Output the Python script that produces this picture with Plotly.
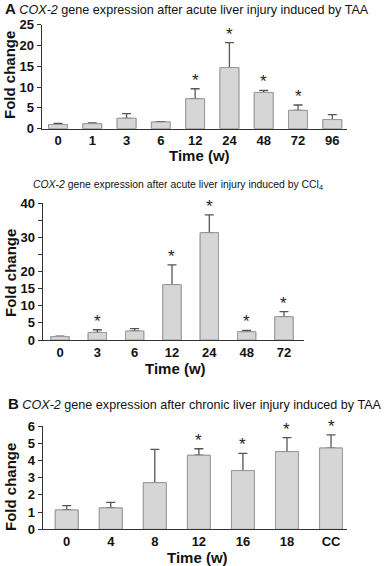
import plotly.graph_objects as go

W, H = 387, 566

# ---- data ----
a_cats = ["0", "1", "3", "6", "12", "24", "48", "72", "96"]
a_vals = [1.0, 1.2, 2.5, 1.6, 7.2, 14.7, 8.7, 4.4, 2.2]
a_err = [0.3, 0.2, 1.1, 0.1, 2.4, 6.0, 0.5, 1.3, 1.2]
a_star = [False, False, False, False, True, True, True, True, False]

c_cats = ["0", "3", "6", "12", "24", "48", "72"]
c_vals = [1.0, 2.2, 2.6, 16.2, 31.4, 2.4, 6.8]
c_err = [0.1, 0.8, 0.7, 5.8, 5.2, 0.4, 1.5]
c_star = [False, True, False, True, True, True, True]

b_cats = ["0", "4", "8", "12", "16", "18", "CC"]
b_vals = [1.12, 1.24, 2.71, 4.30, 3.41, 4.51, 4.72]
b_err = [0.25, 0.32, 1.93, 0.38, 1.00, 0.82, 0.76]
b_star = [False, False, False, True, True, True, True]

a_ticks = [0, 5, 10, 15, 20, 25]
c_ticks = [0, 5, 10, 15, 20, 25, 30, 35, 40]
c_ticktext = ["0", "5", "10", "15", "20", "", "30", "", "40"]
b_ticks = [0, 1, 2, 3, 4, 5, 6]

FONT = "Liberation Sans, Arial, sans-serif"
FILL = "#d6d6d6"
EDGE = "#9a9a9a"
ERR = "#555555"
AX = "#333333"


def px_x(p):
    return p / W


def px_y(p):
    return 1 - p / H


fig = go.Figure()

panels = [
    (a_cats, a_vals, a_err, a_star, "", 0.55, [-0.475, 8.42], (41.7, 346.7), (128.7, 24.7), [0, 25], a_ticks, None),
    (c_cats, c_vals, c_err, c_star, "2", 0.49, [-0.463, 6.536], (42.7, 304), (340, 203.3), [0, 40], c_ticks, c_ticktext),
    (b_cats, b_vals, b_err, b_star, "3", 0.52, [-0.545, 6.356], (42.7, 346.7), (529.3, 426), [0, 6], b_ticks, None),
]

for cats, vals, err, stars, idx, bw, xr, xd, yd, yr, tv, tt in panels:
    xa = "x" + idx
    ya = "y" + idx
    pos = list(range(len(cats)))
    fig.add_trace(go.Bar(
        x=pos, y=vals, xaxis=xa, yaxis=ya, width=bw,
        marker=dict(color=FILL, line=dict(color=EDGE, width=1)),
        error_y=dict(type="data", symmetric=False, array=err,
                     arrayminus=[0] * len(err), color=ERR, thickness=1.3, width=4.5),
        showlegend=False, hoverinfo="skip",
    ))
    fig.add_trace(go.Bar(
        x=pos, y=vals, xaxis=xa, yaxis=ya, width=bw,
        marker=dict(color=FILL, line=dict(color=EDGE, width=1)),
        showlegend=False, hoverinfo="skip",
    ))
    for p, v, e, s in zip(pos, vals, err, stars):
        if s:
            fig.add_annotation(x=p, y=v + e, xref=xa, yref=ya, text="*",
                               showarrow=False, yanchor="bottom", yshift=-3,
                               font=dict(family=FONT, size=17, color="#222"))
    xkey = "xaxis" + idx
    ykey = "yaxis" + idx
    fig.update_layout({
        xkey: dict(domain=[px_x(xd[0]), px_x(xd[1])], anchor=ya,
                   range=xr, showline=True, linecolor=AX, linewidth=1.3,
                   tickvals=pos, ticktext=cats, automargin=False,
                   ticks="", showgrid=False, zeroline=False,
                   tickfont=dict(family=FONT, size=13, color="#111", weight="bold")),
        ykey: dict(domain=[px_y(yd[0]), px_y(yd[1])], anchor=xa, range=yr,
                   showline=True, linecolor=AX, linewidth=1.3, ticks="outside",
                   ticklen=4, tickcolor=AX, tickwidth=1, showgrid=False, zeroline=False,
                   tickvals=tv, ticktext=tt if tt else [str(t) for t in tv],
                   automargin=False,
                   tickfont=dict(family=FONT, size=13, color="#111", weight="bold")),
    })

# titles
titles = [
    ("<b><span style='font-size:15px'>A</span></b> <i>COX-2</i> gene expression after acute liver injury induced by TAA", 3, 8.5, 12.6),
    ("<i>COX-2</i> gene expression after acute liver injury induced by CCl<sub>4</sub>", 31, 185, 10.4),
    ("<b><span style='font-size:15px'>B</span></b> <i>COX-2</i> gene expression after chronic liver injury induced by TAA", 6, 403, 12.6),
]
for txt, x0, yc, sz in titles:
    fig.add_annotation(x=px_x(x0), y=px_y(yc), xref="paper", yref="paper", text=txt,
                       showarrow=False, xanchor="left", yanchor="middle",
                       font=dict(family=FONT, size=sz, color="#111"))

# axis titles
for x0, yc in [(9, 75), (10, 273), (10, 487)]:
    fig.add_annotation(x=px_x(x0), y=px_y(yc), xref="paper", yref="paper",
                       text="<b>Fold change</b>", textangle=-90, showarrow=False,
                       xanchor="center", yanchor="middle",
                       font=dict(family=FONT, size=15, color="#111"))
for xc, yc in [(200, 156), (175, 368), (197, 557)]:
    fig.add_annotation(x=px_x(xc), y=px_y(yc), xref="paper", yref="paper",
                       text="<b>Time (w)</b>", showarrow=False,
                       xanchor="center", yanchor="middle",
                       font=dict(family=FONT, size=15, color="#111"))

fig.update_layout(
    template="none",
    width=W, height=H, margin=dict(l=0, r=0, t=0, b=0, pad=0),
    paper_bgcolor="white", plot_bgcolor="white", barmode="overlay",
    font=dict(family=FONT),
)

fig.write_html("out.html", config={"displayModeBar": False},
               post_script="document.body.style.margin='0';document.body.style.overflow='hidden';")
